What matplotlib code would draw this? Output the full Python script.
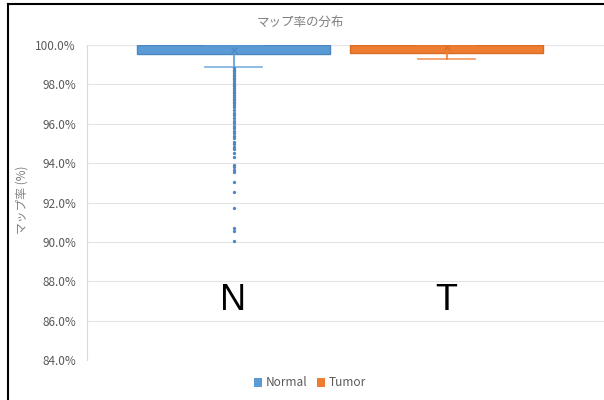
import matplotlib
matplotlib.use("Agg")
import matplotlib.pyplot as plt
from matplotlib.lines import Line2D
from matplotlib.patches import Patch
from matplotlib.ticker import FuncFormatter

plt.rcParams['font.family'] = ['Noto Sans CJK JP', 'DejaVu Sans']

# Box statistics (map rate, %)
groups = ['Normal', 'Tumor']
letters = ['N', 'T']
q1 = [99.55, 99.6]
q3 = [100.0, 100.0]
medians = [99.95, 99.95]
means = [99.75, 99.9]
whisker_low = [98.88, 99.29]
whisker_high = [100.0, 100.0]
colors = ['#5B9BD5', '#ED7D31']
edge_colors = ['#4A86C0', '#D96C22']

# Normal samples below the lower whisker
normal_outliers = [
    98.83, 98.74, 98.66, 98.58, 98.50, 98.42, 98.33, 98.25, 98.16, 98.08,
    97.99, 97.90, 97.81, 97.72, 97.63, 97.54, 97.45, 97.36, 97.28, 97.20,
    97.12, 97.04, 96.95, 96.84, 96.70, 96.56, 96.45, 96.28, 96.16, 96.03,
    95.89, 95.77, 95.65, 95.52, 95.38, 95.26, 95.09, 94.97, 94.84, 94.71,
    94.53, 94.33, 93.91, 93.79, 93.65, 93.57, 93.06, 92.52, 91.74, 90.70,
    90.56, 90.02,
]
fliers = [normal_outliers, []]

fig = plt.figure(figsize=(6.04, 4.0), dpi=100)
ax = fig.add_axes([87 / 604, 0.1, 1 - 87 / 604, 0.7875])

stats = []
for i, g in enumerate(groups):
    stats.append(dict(label=g, q1=q1[i], q3=q3[i], med=medians[i], mean=means[i],
                      whislo=whisker_low[i], whishi=whisker_high[i], fliers=fliers[i]))

positions = [1, 2]
for i in range(2):
    ax.bxp([stats[i]], positions=[positions[i]], widths=0.906, patch_artist=True,
           showmeans=True, showfliers=True,
           boxprops=dict(facecolor=colors[i], edgecolor=edge_colors[i], linewidth=1),
           medianprops=dict(color=colors[i], linewidth=0),
           whiskerprops=dict(color=colors[i], linewidth=1.2),
           capprops=dict(color=colors[i], linewidth=1.2, alpha=0.8),
           capwidths=0.268,
           meanprops=dict(marker='x', markeredgecolor=edge_colors[i], markersize=5,
                          markeredgewidth=0.8),
           flierprops=dict(marker='o', markerfacecolor='#4F86C2', markeredgecolor='none',
                           markersize=2.4, linestyle='none'))

ax.set_xlim(0.312, 2.739)
ax.set_ylim(84, 100)
ax.set_yticks(range(84, 101, 2))
ax.yaxis.set_major_formatter(FuncFormatter(lambda v, p: f'{v:.1f}%'))
ax.tick_params(axis='y', length=0, labelsize=8.5, labelcolor='#595959', pad=8)
ax.set_xticks([])
ax.grid(axis='y', color='#E4E4E4', linewidth=0.8)
ax.set_axisbelow(True)
for s in ['top', 'right', 'bottom']:
    ax.spines[s].set_visible(False)
ax.spines['left'].set_color('#D9D9D9')

# Group letters inside the plot
for pos, letter in zip(positions, letters):
    ax.text(pos, 87.0, letter, ha='center', va='center', fontsize=26,
            color='black', family=['Liberation Sans', 'DejaVu Sans'])

fig.text(300 / 604, 1 - 22 / 400, 'マップ率の分布', ha='center', va='center',
         fontsize=9, color='#7F7F7F')
fig.text(22 / 604, 1 - 200 / 400, 'マップ率 (%)', ha='center', va='center',
         rotation=90, fontsize=8.5, color='#7F7F7F')

handles = [Patch(facecolor=c, edgecolor='none') for c in colors]
fig.legend(handles, groups, loc='center', bbox_to_anchor=(310 / 604, 1 - 383 / 400),
           ncol=2, frameon=False, fontsize=8.5, handlelength=0.7, handleheight=0.7,
           handletextpad=0.3, columnspacing=0.8, labelcolor='#595959')

# Outer frame
fig.add_artist(Line2D([8 / 604, 8 / 604], [0, 1 - 4 / 400], color='black', linewidth=1.5,
                      transform=fig.transFigure))
fig.add_artist(Line2D([8 / 604, 1], [1 - 4 / 400, 1 - 4 / 400], color='black', linewidth=1.5,
                      transform=fig.transFigure))

fig.savefig('out.png', dpi=100)
